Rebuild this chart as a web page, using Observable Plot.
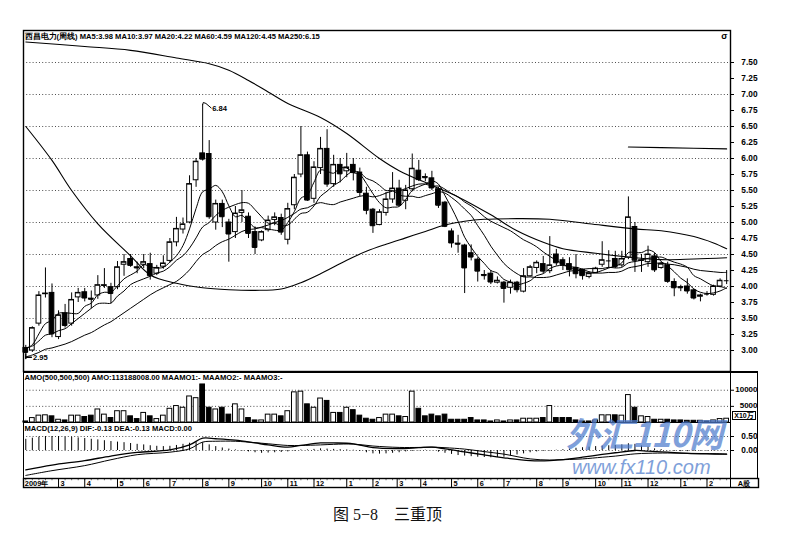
<!DOCTYPE html>
<html><head><meta charset="utf-8">
<script src="https://cdn.jsdelivr.net/npm/d3@7"></script>
<script src="https://cdn.jsdelivr.net/npm/@observablehq/plot@0.6"></script>
<style>
body{margin:0;background:#fff;}
#wrap{position:relative;width:810px;height:533px;overflow:hidden;background:#fff;font-family:"Liberation Sans",Arial,sans-serif;}
#wrap svg{position:absolute;left:0;overflow:visible;}
.abs{position:absolute;}
</style></head><body><div id="wrap"></div>
<script>
// ---------- data (weekly candles) ----------
const opens = [3.04,3.00,3.42,3.88,3.90,3.21,3.58,3.42,3.83,3.91,
3.81,3.86,4.01,3.99,3.99,4.34,4.43,4.30,4.34,4.35,
4.20,4.31,4.40,4.69,4.89,5.00,5.66,6.08,6.07,5.00,
5.29,5.00,4.85,5.15,5.09,4.85,4.72,4.88,5.04,5.07,
4.73,5.27,5.75,6.05,5.37,5.85,6.15,5.60,5.90,5.80,
5.90,5.78,5.45,5.20,4.96,5.15,5.36,5.53,5.34,5.52,
5.81,5.71,5.69,5.52,5.31,4.86,4.67,4.64,4.52,4.42,
4.18,4.20,4.06,4.06,3.98,4.06,3.92,4.16,4.29,4.35,
4.24,4.50,4.41,4.35,4.29,4.26,4.15,4.21,4.34,4.40,
4.43,4.33,4.45,4.93,4.40,4.38,4.47,4.29,4.33,4.07,
3.99,4.00,3.94,3.84,3.88,3.87,4.00,4.09];
const highs = [3.08,3.37,3.92,4.29,4.04,3.62,3.72,3.90,3.97,3.97,
3.93,4.17,4.28,4.05,4.39,4.50,4.50,4.38,4.50,4.52,
4.33,4.48,4.75,5.08,5.07,5.73,6.00,6.84,6.28,5.35,
5.35,5.05,5.25,5.50,5.15,4.93,4.87,5.10,5.15,5.13,
5.30,5.75,6.50,6.10,5.95,6.33,6.45,6.05,6.00,6.08,
6.00,5.85,5.55,5.22,5.20,5.47,5.78,5.66,5.58,6.07,
5.97,5.76,5.80,5.55,5.33,4.90,4.80,4.66,4.65,4.45,
4.25,4.25,4.15,4.08,4.10,4.08,4.28,4.33,4.40,4.47,
4.78,4.58,4.45,4.45,4.50,4.27,4.23,4.30,4.70,4.56,
4.55,4.55,5.40,5.00,4.50,4.63,4.52,4.38,4.38,4.12,
4.02,4.12,3.96,3.88,3.92,4.02,4.12,4.25];
const lows = [2.95,2.97,3.38,3.82,3.20,3.17,3.35,3.38,3.75,3.76,
3.65,3.80,3.97,3.73,3.95,4.16,4.30,4.20,4.28,4.10,
4.17,4.27,4.37,4.62,4.82,4.98,5.55,5.96,5.05,4.88,
4.92,4.38,4.75,5.00,4.75,4.50,4.70,4.85,4.95,4.80,
4.65,5.20,5.70,5.33,5.30,5.75,5.55,5.55,5.62,5.70,
5.65,5.40,5.12,4.83,4.95,5.10,5.30,5.25,5.20,5.48,
5.64,5.64,5.50,5.22,4.92,4.60,4.52,3.89,4.40,4.07,
4.10,4.03,4.04,3.74,3.88,3.90,3.90,4.15,4.20,4.20,
4.20,4.32,4.25,4.15,4.12,4.10,4.12,4.20,4.30,4.28,
4.28,4.30,4.42,4.22,4.22,4.30,4.22,4.27,4.05,3.84,
3.92,3.88,3.79,3.76,3.85,3.85,3.98,4.03];
const closes = [2.97,3.35,3.86,3.89,3.26,3.55,3.39,3.79,3.90,3.82,
3.80,4.02,4.02,3.89,4.30,4.38,4.33,4.29,4.38,4.17,
4.29,4.36,4.69,4.90,4.97,5.60,5.95,5.99,5.09,5.29,
5.09,4.82,5.14,5.19,4.83,4.61,4.85,5.03,5.08,4.85,
5.21,5.70,6.05,5.35,5.86,6.15,5.60,5.90,5.76,5.86,
5.78,5.47,5.19,4.95,5.16,5.36,5.53,5.27,5.50,5.84,
5.67,5.70,5.54,5.27,4.94,4.68,4.66,4.29,4.46,4.24,
4.17,4.07,4.09,3.97,4.06,3.95,4.16,4.30,4.37,4.24,
4.33,4.37,4.34,4.26,4.20,4.17,4.20,4.28,4.41,4.40,
4.31,4.43,5.08,4.41,4.41,4.50,4.26,4.35,4.08,3.98,
3.98,3.93,3.82,3.86,3.88,4.00,4.09,4.09];

const ma5 = [3.03,3.09,3.26,3.42,3.47,3.58,3.59,3.58,3.58,3.69,
3.74,3.87,3.91,3.91,4.01,4.12,4.18,4.24,4.34,4.31,
4.29,4.30,4.38,4.48,4.64,4.90,5.22,5.48,5.52,5.58,
5.48,5.26,5.09,5.11,5.01,4.92,4.92,4.90,4.88,4.88,
5.00,5.17,5.38,5.43,5.63,5.82,5.80,5.77,5.85,5.85,
5.78,5.75,5.61,5.45,5.31,5.23,5.24,5.25,5.36,5.50,
5.56,5.60,5.65,5.60,5.42,5.23,5.02,4.77,4.61,4.47,
4.36,4.25,4.21,4.11,4.07,4.03,4.05,4.09,4.17,4.20,
4.28,4.32,4.33,4.31,4.30,4.27,4.23,4.22,4.25,4.29,
4.32,4.37,4.53,4.53,4.53,4.57,4.53,4.39,4.32,4.23,
4.13,4.06,3.96,3.91,3.89,3.90,3.93,3.98];
const ma10 = [3.04,3.07,3.15,3.24,3.26,3.31,3.34,3.42,3.50,3.58,
3.66,3.73,3.74,3.74,3.85,3.93,4.03,4.08,4.12,4.16,
4.21,4.24,4.31,4.41,4.48,4.60,4.76,4.93,5.00,5.11,
5.19,5.24,5.28,5.31,5.30,5.20,5.09,4.99,4.99,4.95,
4.96,5.05,5.14,5.16,5.26,5.41,5.49,5.58,5.64,5.74,
5.80,5.78,5.69,5.65,5.58,5.50,5.50,5.43,5.41,5.41,
5.39,5.42,5.45,5.48,5.46,5.39,5.31,5.21,5.11,4.95,
4.80,4.63,4.49,4.36,4.27,4.20,4.15,4.15,4.14,4.14,
4.15,4.18,4.21,4.24,4.25,4.27,4.28,4.28,4.28,4.30,
4.29,4.30,4.37,4.39,4.41,4.44,4.45,4.46,4.42,4.38,
4.35,4.30,4.17,4.12,4.06,4.01,4.00,3.97];
const ma20 = [2.90,2.93,2.97,3.02,3.04,3.07,3.10,3.14,3.19,3.24,
3.28,3.34,3.40,3.45,3.52,3.59,3.66,3.73,3.80,3.87,
3.93,3.98,4.03,4.08,4.16,4.26,4.39,4.50,4.56,4.64,
4.70,4.74,4.80,4.86,4.89,4.90,4.93,4.96,5.00,5.03,
5.08,5.14,5.21,5.23,5.28,5.31,5.29,5.28,5.32,5.35,
5.38,5.41,5.42,5.40,5.42,5.46,5.49,5.50,5.53,5.57,
5.60,5.60,5.57,5.57,5.52,5.45,5.40,5.32,5.26,5.18,
5.09,5.02,4.97,4.92,4.87,4.80,4.73,4.68,4.62,4.54,
4.47,4.41,4.35,4.30,4.26,4.24,4.21,4.21,4.21,4.22,
4.22,4.24,4.29,4.31,4.33,4.36,4.36,4.37,4.35,4.34,
4.32,4.30,4.27,4.25,4.24,4.23,4.22,4.22];
// long averages, [week index, value]
const ma60 = [[0,6.50],[4,5.97],[7,5.50],[11,4.98],[16,4.48],[19,4.18],[23,4.05],[27,3.98],[31,3.95],[35,3.94],[39,3.96],[42,4.06],[45,4.20],[49,4.41],[52,4.55],[55,4.66],[58,4.76],[61,4.86],[64,4.96],[67,5.02],[70,5.05],[75,5.06],[80,5.05],[86,4.98],[93,4.90],[97,4.87],[102,4.78],[105,4.68],[107,4.59]];
const ma120 = [[0,7.82],[9,7.75],[16,7.69],[23,7.57],[28,7.48],[31,7.38],[34,7.22],[37,7.04],[40,6.86],[45,6.64],[49,6.39],[54,6.00],[57,5.81],[62,5.58],[66,5.40],[71,5.12],[75,4.87],[79,4.69],[82,4.59],[87,4.52],[92,4.46],[97,4.42],[102,4.43],[107,4.45]];
const ma250 = [[92,6.18],[97,6.17],[102,6.16],[107,6.15]];

const volumes = [320,1370,2130,2230,1910,850,640,2120,2120,1700,
2120,4040,2440,1380,3500,3500,1910,1060,2970,1910,
1060,2120,4250,5100,4570,8070,7540,11790,4570,4040,
4570,2440,5630,4040,1380,640,640,2440,2440,1910,
3500,9350,9560,5630,4570,7430,6690,2970,2970,4570,
3820,2120,1170,850,1380,2440,2440,1910,1700,9560,
4250,1910,2440,1910,2440,850,850,850,1380,640,
640,320,640,320,640,640,1170,1170,1170,1380,
5100,1380,1380,1380,640,320,320,640,2230,2230,
2230,2120,8500,4570,1910,1700,850,850,850,640,
640,530,530,530,320,640,1060,1170];

const macdHist = [0.40,0.44,0.48,0.50,0.50,0.50,0.48,0.47,0.45,0.43,
0.40,0.38,0.35,0.32,0.30,0.28,0.25,0.22,0.20,0.17,
0.15,0.14,0.15,0.18,0.22,0.26,0.28,0.28,0.20,0.14,
0.09,0.05,0.02,-0.02,-0.05,-0.08,-0.10,-0.09,-0.08,-0.07,
-0.05,-0.02,0.02,0.02,0.04,0.06,0.05,0.04,0.03,0.02,
0.01,-0.03,-0.08,-0.12,-0.13,-0.12,-0.10,-0.08,-0.05,-0.03,
-0.01,0.01,0.00,-0.06,-0.10,-0.14,-0.18,-0.20,-0.22,-0.24,
-0.25,-0.26,-0.25,-0.24,-0.20,-0.16,-0.12,-0.08,-0.05,-0.03,
-0.02,0.01,0.03,0.05,0.08,0.10,0.12,0.14,0.16,0.17,
0.18,0.20,0.24,0.22,0.16,0.12,0.06,0.03,0.00,-0.03,
-0.04,-0.04,-0.03,-0.02,-0.02,-0.01,0.00,0.00];
const dif = [[0,-0.69],[4,-0.52],[9,-0.36],[13,-0.20],[17,-0.07],[22,0.02],[25,0.20],[27,0.44],[29,0.42],[32,0.37],[35,0.27],[37,0.20],[40,0.12],[42,0.18],[45,0.27],[47,0.27],[50,0.24],[53,0.10],[57,0.07],[60,0.10],[62,0.12],[64,0.06],[67,-0.05],[70,-0.16],[73,-0.26],[77,-0.36],[80,-0.36],[83,-0.30],[85,-0.24],[88,-0.14],[90,-0.08],[93,0.00],[95,-0.02],[98,-0.06],[101,-0.10],[104,-0.12],[107,-0.13]];
const dea = [[0,-0.89],[4,-0.72],[9,-0.54],[13,-0.33],[17,-0.15],[22,-0.06],[25,0.06],[27,0.30],[29,0.33],[32,0.33],[35,0.28],[37,0.24],[40,0.18],[42,0.18],[45,0.20],[47,0.22],[50,0.23],[53,0.16],[57,0.11],[60,0.11],[62,0.12],[64,0.10],[67,0.05],[70,-0.04],[73,-0.13],[77,-0.30],[80,-0.34],[83,-0.32],[85,-0.30],[88,-0.24],[90,-0.20],[93,-0.12],[95,-0.10],[98,-0.09],[101,-0.10],[104,-0.11],[107,-0.13]];

const priceTicks = [3.00,3.25,3.50,3.75,4.00,4.25,4.50,4.75,5.00,5.25,5.50,5.75,6.00,6.25,6.50,6.75,7.00,7.25,7.50];
const priceGrid = [3.0,3.5,4.0,4.5,5.0,5.5,6.0,6.5,7.0,7.5];
const volTicks = [5000,10000];
const macdTicks = [0,0.5];
const monthPos = [5,9,14,18,22,27,31,36,40,44,49,53,56.7,60.3,65,69,73,78,82,87,91,95,100,104];
const monthLabels = ["3","4","5","6","7","8","9","10","11","12","1","2","3","4","5","6","7","8","9","10","11","12","1","2"];

const titleText = "西昌电力(周线) MA5:3.98 MA10:3.97 MA20:4.22 MA60:4.59 MA120:4.45 MA250:6.15";
const amoText = "AMO(500,500,500) AMO:113188008.00 MAAMO1:- MAAMO2:- MAAMO3:-";
const macdText = "MACD(12,26,9) DIF:-0.13 DEA:-0.13 MACD:0.00";

// ---------- drawing ----------
const wrap = document.getElementById("wrap");
const W = 810, ML = 23, STEP = 6.55, X0 = -0.35;
const xDom = mr => [X0, X0 + (W - mr - ML) / STEP];
const FONT = "'Liberation Sans', Arial, sans-serif";
const HW = 0.36;
const N = closes.length;
const candles = d3.range(N).map(i => ({i, o: opens[i], h: highs[i], l: lows[i], c: closes[i], v: volumes[i], up: closes[i] >= opens[i]}));
const lineOf = arr => arr.map((v, i) => [i, v]);
const txt = {fontFamily: FONT, fontWeight: "bold", fill: "#000"};
const dotted = {stroke: "#222", strokeDasharray: "1,2.2", strokeWidth: 0.8};

function place(svg, top) { svg.style.top = top + "px"; wrap.appendChild(svg); }
const base = mr => ({width: W, marginLeft: ML, marginRight: mr, x: {domain: xDom(mr), axis: null},
  style: {background: "transparent", fontFamily: FONT, overflow: "visible"}});
const xHi = xDom(80)[1];

// Main price panel
const main = Plot.plot({
  ...base(80), height: 372, marginTop: 30, marginBottom: 1,
  y: {domain: [2.672, 8.0], axis: null},
  marks: [
    Plot.ruleY(priceGrid, dotted),
    Plot.ruleX(candles, {x: "i", y1: "l", y2: "h", stroke: "#000", strokeWidth: 1}),
    Plot.rect(candles, {x1: d => d.i - HW, x2: d => d.i + HW, y1: "o", y2: "c", fill: d => d.up ? "#fff" : "#000", stroke: "#000", strokeWidth: 1}),
    Plot.ruleY(candles, {x1: d => d.i - HW, x2: d => d.i + HW, y: "c", stroke: "#000", strokeWidth: 1}),
    Plot.line(ma250, {x: d => d[0], y: d => d[1], stroke: "#000", strokeWidth: 1.1}),
    Plot.line(ma120, {x: d => d[0], y: d => d[1], stroke: "#000", strokeWidth: 1.1, curve: "catmull-rom"}),
    Plot.line(ma60, {x: d => d[0], y: d => d[1], stroke: "#000", strokeWidth: 1.1, curve: "catmull-rom"}),
    Plot.line(lineOf(ma20), {x: d => d[0], y: d => d[1], stroke: "#000", strokeWidth: 1, curve: "catmull-rom"}),
    Plot.line(lineOf(ma10), {x: d => d[0], y: d => d[1], stroke: "#000", strokeWidth: 1, curve: "catmull-rom"}),
    Plot.line(lineOf(ma5), {x: d => d[0], y: d => d[1], stroke: "#000", strokeWidth: 1, curve: "catmull-rom"}),
    Plot.frame({stroke: "#000", strokeWidth: 1.4}),
    Plot.ruleY(priceTicks, {x1: xHi, x2: xHi + 4 / STEP, stroke: "#000"}),
    Plot.text(priceTicks, {y: d => d, text: d => d.toFixed(2), frameAnchor: "right", dx: 27, textAnchor: "end", fontSize: 8.3, ...txt}),
    Plot.text([titleText], {text: d => d, frameAnchor: "top-left", dx: 1, dy: 3, textAnchor: "start", lineAnchor: "top", fontSize: 7.6, ...txt}),
    Plot.text(["σ"], {text: d => d, frameAnchor: "top-right", dx: -3, dy: 2, lineAnchor: "top", textAnchor: "end", fontSize: 9, ...txt}),
    // high / low marks
    Plot.line([[27, 6.84], [27.1, 6.875], [27.5, 6.86], [28.3, 6.79]], {x: d => d[0], y: d => d[1], stroke: "#000", strokeWidth: 1}),
    Plot.text([[28.45, 6.78]], {x: d => d[0], y: d => d[1], text: () => highs[27].toFixed(2), textAnchor: "start", fontSize: 7.6, ...txt}),
    Plot.line([[0, 2.95], [0, 2.875]], {x: d => d[0], y: d => d[1], stroke: "#000"}),
    Plot.line([[0, 2.895], [0.85, 2.895]], {x: d => d[0], y: d => d[1], stroke: "#000"}),
    Plot.text([[1.1, 2.895]], {x: d => d[0], y: d => d[1], text: () => lows[0].toFixed(2), textAnchor: "start", fontSize: 7.6, ...txt})
  ]
});
place(main, 0);

// Volume panel
const vol = Plot.plot({
  ...base(80), height: 50, marginTop: 0, marginBottom: 0,
  y: {domain: [0, 15500], axis: null},
  marks: [
    Plot.ruleY(volTicks, dotted),
    Plot.rect(candles, {x1: d => d.i - HW, x2: d => d.i + HW, y1: 0, y2: "v", fill: d => d.up ? "#fff" : "#000", stroke: "#000", strokeWidth: 1}),
    Plot.frame({stroke: "#000", strokeWidth: 1}),
    Plot.ruleY(volTicks, {x1: xHi, x2: xHi + 4 / STEP, stroke: "#000"}),
    Plot.text(volTicks, {y: d => d, text: d => String(d), frameAnchor: "right", dx: 27, dy: -1, textAnchor: "end", fontSize: 8, ...txt}),
    Plot.text([amoText], {text: d => d, frameAnchor: "top-left", dx: 1, dy: 2, textAnchor: "start", lineAnchor: "top", fontSize: 7.6, ...txt})
  ]
});
place(vol, 372);

// MACD panel
const macd = Plot.plot({
  ...base(80), height: 56, marginTop: 0, marginBottom: 0,
  y: {domain: [-1, 1], axis: null},
  marks: [
    Plot.ruleY(macdTicks, dotted),
    Plot.ruleX(lineOf(macdHist), {x: d => d[0], y1: 0, y2: d => d[1], stroke: "#000", strokeWidth: 1}),
    Plot.line(dif, {x: d => d[0], y: d => d[1], stroke: "#000", strokeWidth: 1.3, curve: "catmull-rom"}),
    Plot.line(dea, {x: d => d[0], y: d => d[1], stroke: "#000", strokeWidth: 1, curve: "catmull-rom"}),
    Plot.frame({stroke: "#000", strokeWidth: 1}),
    Plot.ruleY(macdTicks, {x1: xHi, x2: xHi + 4 / STEP, stroke: "#000"}),
    Plot.text(macdTicks, {y: d => d, text: d => d.toFixed(2), frameAnchor: "right", dx: 27, textAnchor: "end", fontSize: 8.3, ...txt}),
    Plot.text([macdText], {text: d => d, frameAnchor: "top-left", dx: 1, dy: 3, textAnchor: "start", lineAnchor: "top", fontSize: 7.6, ...txt})
  ]
});
place(macd, 422);

// Date band
const dates = Plot.plot({
  ...base(52), height: 9, marginTop: 0, marginBottom: 0,
  y: {domain: [0, 1], axis: null},
  marks: [
    Plot.ruleX(d3.range(N), {x: d => d, y1: 0.75, y2: 1, stroke: "#000", strokeWidth: 0.6}),
    Plot.ruleX(monthPos, {x: d => d, y1: 0, y2: 1, stroke: "#000", strokeWidth: 1}),
    Plot.text(monthPos, {x: d => d, y: 0.45, text: (d, k) => monthLabels[k], dx: 2, textAnchor: "start", fontSize: 7.4, ...txt}),
    Plot.text(["2009年"], {x: -0.15, y: 0.45, text: d => d, textAnchor: "start", fontSize: 7.4, ...txt}),
    Plot.ruleX([xHi], {y1: 0, y2: 1, stroke: "#000"}),
    Plot.text(["A股"], {x: xHi + 1.1, y: 0.45, text: d => d, textAnchor: "start", fontSize: 7.4, ...txt}),
    Plot.frame({stroke: "#000", strokeWidth: 1.4})
  ]
});
place(dates, 478);

// right column border of lower panels
const col = document.createElement("div");
col.className = "abs";
Object.assign(col.style, {left: "730px", top: "371px", width: "28px", height: "107px", borderTop: "2px solid #000", borderRight: "1px solid #000", boxSizing: "border-box"});
wrap.appendChild(col);
const unit = document.createElement("div");
unit.className = "abs";
unit.textContent = "X10万";
Object.assign(unit.style, {left: "732px", top: "411px", width: "24px", height: "9px", border: "1px solid #000", boxSizing: "border-box",
  font: "bold 7px 'Liberation Sans','Noto Sans CJK SC',sans-serif", lineHeight: "7px", textAlign: "center", color: "#000", overflow: "hidden"});
wrap.appendChild(unit);

// watermark
const wm1 = document.createElement("div");
wm1.className = "abs";
wm1.textContent = "外汇110网";
Object.assign(wm1.style, {left: "566px", top: "413px", font: "italic bold 34px 'Noto Sans CJK SC','Liberation Sans',sans-serif", color: "#4f7ccc", opacity: "0.72", lineHeight: "40px", letterSpacing: "-1px", whiteSpace: "nowrap"});
wrap.appendChild(wm1);
const wm2 = document.createElement("div");
wm2.className = "abs";
wm2.textContent = "www.fx110.com";
Object.assign(wm2.style, {left: "572px", top: "457px", font: "italic 20px 'Liberation Sans',sans-serif", color: "#4f7ccc", opacity: "0.72", lineHeight: "20px", whiteSpace: "nowrap"});
wrap.appendChild(wm2);

// caption
const cap = document.createElement("div");
cap.className = "abs";
cap.textContent = "图 5−8　三重顶";
Object.assign(cap.style, {left: "333px", top: "504px", font: "16px 'Liberation Serif','Noto Sans CJK SC',serif", color: "#111", lineHeight: "22px", whiteSpace: "nowrap"});
wrap.appendChild(cap);
</script>
</body></html>
